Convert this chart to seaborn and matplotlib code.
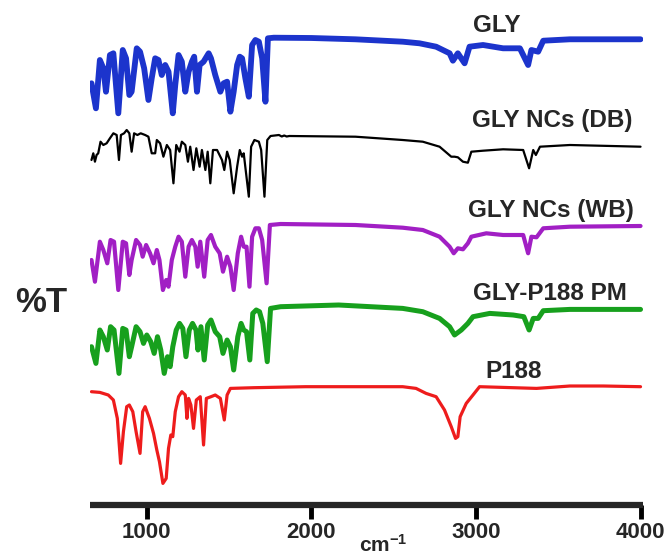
import numpy as np
import pandas as pd
import seaborn as sns
import matplotlib.pyplot as plt

sns.set_theme(style="ticks")
plt.rcParams['font.family'] = ['Liberation Sans', 'DejaVu Sans']
plt.rcParams['mathtext.fontset'] = 'custom'
plt.rcParams['mathtext.rm'] = 'Liberation Sans'
plt.rcParams['mathtext.bf'] = 'Liberation Sans:bold'

# FTIR spectra (wavenumber, %T)
gly_wn = [664, 691, 715, 736, 752, 776, 797, 827, 854, 874, 894, 908, 939, 959, 984, 1010,
          1030, 1051, 1071, 1091, 1112, 1132, 1158, 1173, 1193, 1213, 1234, 1254, 1274, 1288,
          1305, 1321, 1345, 1376, 1390, 1416, 1447, 1467, 1488, 1508, 1528, 1549, 1565, 1579,
          1599, 1620, 1640, 1660, 1681, 1701, 1721, 1736, 1772, 2000, 2268, 2555, 2657, 2758,
          2840, 2860, 2890, 2931, 2961, 3043, 3165, 3267, 3317, 3337, 3378, 3409, 3571, 4000]
gly_t = [54.7, 29.7, 78, 69.7, 46.3, 83, 84.7, 24.7, 88, 79.7, 43, 46.3, 89.7, 86.3, 69.7, 38,
         59.7, 79.7, 78, 63, 73, 66.3, 24.7, 53, 83, 76.3, 46.3, 66.3, 76.3, 81.3,
         46.3, 73, 76.3, 84.7, 79.7, 63, 46.3, 54.7, 56.3, 26.3, 46.3, 73, 81.3, 79.7,
         59.7, 41.3, 93, 98, 96.3, 79.7, 36.3, 99.7, 100.3, 100, 98.7, 96.3, 94.7, 91.3,
         84.7, 77.3, 84.7, 74.7, 91.3, 93, 89.7, 89.7, 73, 88, 86.3, 97.3, 98.7, 98.7]

db_wn = [664, 675, 685, 695, 705, 719, 736, 756, 776, 797, 817, 831, 843, 862, 878, 894, 908,
         923, 943, 963, 990, 1010, 1030, 1051, 1061, 1081, 1101, 1122, 1142, 1162, 1179, 1199,
         1213, 1234, 1250, 1264, 1284, 1301, 1321, 1335, 1356, 1370, 1386, 1402, 1427, 1457,
         1471, 1488, 1504, 1528, 1549, 1565, 1579, 1589, 1620, 1634, 1654, 1681, 1695, 1715,
         1732, 1752, 1803, 1820, 1835, 1850, 1866, 2268, 2555, 2677, 2779, 2850, 2870, 2890,
         2921, 2951, 2972, 3043, 3165, 3287, 3323, 3348, 3364, 3389, 3571, 4000]
db_t = [76, 82.7, 74.3, 81, 82.7, 94.3, 91, 92.7, 97.7, 102.7, 101, 76, 101, 102.7, 106, 102.7, 84.3,
        102.7, 101, 102.7, 101, 99.3, 82.7, 82.7, 96, 92.7, 79.3, 91, 86, 52.7, 91, 84.3,
        94.3, 91, 74.3, 89.3, 66, 87.7, 69.3, 86, 66, 84.3, 52.7, 86, 86, 76,
        66, 84.3, 76, 42.7, 69.3, 86, 79.3, 82.7, 39.3, 89.3, 96, 94.3, 86, 39.3,
        96, 100, 101, 99.5, 100.5, 99.5, 100, 99.3, 96, 94.3, 89.3, 79.3, 79.3, 78.7,
        74.3, 73.3, 84.3, 85.3, 86.7, 86, 67.7, 86, 81, 89.3, 91, 89.3]

wb_wn = [664, 685, 715, 736, 760, 780, 801, 827, 854, 874, 894, 908, 935, 959, 975, 996, 1020,
         1041, 1061, 1077, 1098, 1118, 1132, 1152, 1173, 1193, 1213, 1234, 1254, 1274, 1295,
         1309, 1325, 1349, 1370, 1390, 1416, 1443, 1463, 1488, 1508, 1528, 1553, 1573, 1589,
         1606, 1624, 1640, 1660, 1681, 1701, 1728, 1748, 1813, 2268, 2555, 2677, 2779, 2840,
         2865, 2890, 2921, 2951, 2972, 3063, 3165, 3287, 3317, 3337, 3368, 3409, 3571, 4000]
wb_t = [64, 42.3, 82.3, 74, 60.7, 84, 82.3, 34, 82.3, 80.7, 49, 64, 84, 79, 67.3, 79, 70.7,
        60.7, 74, 64, 34, 44, 37.3, 64, 77.3, 87.3, 82.3, 47.3, 77.3, 84, 77.3,
        57.3, 82.3, 47.3, 84, 89, 77.3, 70.7, 52.3, 67.3, 57.3, 34, 70.7, 87.3, 77.3,
        77.3, 37.3, 87.3, 95.7, 95.7, 84, 40.7, 99, 100, 99, 96.3, 94, 87.3, 77.3,
        70.7, 75.7, 74.7, 80.7, 87.3, 90.7, 89, 89, 70.7, 87.3, 86.7, 95.7, 97.3, 98]

pm_wn = [664, 691, 715, 736, 760, 780, 801, 831, 854, 874, 894, 908, 935, 959, 980, 1000, 1024,
         1045, 1065, 1085, 1106, 1126, 1142, 1158, 1179, 1199, 1219, 1238, 1258, 1278, 1299,
         1311, 1329, 1349, 1370, 1390, 1416, 1443, 1463, 1488, 1508, 1528, 1553, 1573, 1589,
         1606, 1626, 1644, 1665, 1685, 1705, 1732, 1752, 1813, 2166, 2555, 2677, 2779, 2840,
         2870, 2911, 2951, 2982, 3084, 3226, 3291, 3323, 3348, 3378, 3409, 3571, 4000]
pm_t = [60, 43.3, 76.7, 70, 56.7, 80, 76.7, 33.3, 78.3, 76.7, 50, 60, 80, 75, 63.3, 71.7, 65,
        53.3, 70, 56.7, 33.3, 50, 40, 60, 76.7, 83.3, 78.3, 50, 76.7, 83.3, 76.7,
        56.7, 80, 46.7, 81.7, 86.7, 75, 70, 53.3, 66.7, 60, 36.7, 70, 83.3, 76.7,
        75, 46.7, 93.3, 96.7, 95, 83.3, 45, 98.3, 100, 101.7, 98.3, 95, 88.3, 80,
        71.7, 76.7, 83.3, 90, 93.3, 91.7, 90, 76.7, 88.3, 88.3, 96, 97.3, 97.3]

p188_wn = [664, 715, 766, 797, 821, 841, 858, 878, 894, 915, 935, 959, 975, 990, 1016, 1041,
           1061, 1077, 1098, 1118, 1132, 1146, 1158, 1173, 1193, 1213, 1234, 1244, 1254, 1268,
           1284, 1301, 1325, 1345, 1362, 1390, 1416, 1447, 1471, 1488, 1508, 1650, 1965, 2555,
           2636, 2697, 2758, 2809, 2850, 2876, 2890, 2904, 2941, 2982, 3022, 3165, 3368, 3571,
           3774, 4000]
p188_t = [96, 95.3, 92.7, 87.7, 69.3, 24.3, 56, 81, 82.7, 76, 56, 34.3, 76, 81, 69.3, 54.3,
          37.7, 26, 4.3, 9.3, 39.3, 52.7, 51, 76, 91, 96, 92.7, 69.3, 89.3, 82.7,
          59.3, 87.7, 91, 42.7, 89.3, 91, 92.7, 89.3, 67.7, 92.7, 99.3, 100, 101, 101,
          99.3, 94.3, 91, 77.7, 61, 49.3, 51, 71, 84.3, 92.7, 101, 100.3, 99.3, 101.7,
          101.7, 101]

names = ["GLY", "GLY NCs (DB)", "GLY NCs (WB)", "GLY-P188 PM", "P188"]
spectra = [(gly_wn, gly_t), (db_wn, db_t), (wb_wn, wb_t), (pm_wn, pm_t), (p188_wn, p188_t)]

# stacking offsets and styles
offsets = [-138, -236, -324, -406.7, -487.7]
colors = ["#1c34cc", "#000000", "#a11fc4", "#17a01d", "#ee1c1c"]
widths = [4.2, 1.6, 3.0, 3.6, 2.3]
label_pos = [(2982, -26), (2976, -120), (2952, -210), (2982, -293), (3055, -371)]

W, H = 667, 555
fig = plt.figure(figsize=(W / 100, H / 100), dpi=100)
ax = fig.add_axes([90 / W, 50 / H, 553 / W, 505 / H])

for (wn, t), off, c, lw, name, (lx, ly) in zip(spectra, offsets, colors, widths, names, label_pos):
    df = pd.DataFrame({"wn": wn, "y": np.array(t) + off})
    sns.lineplot(data=df, x="wn", y="y", ax=ax, color=c, lw=lw, estimator=None, sort=False,
                 solid_joinstyle="round", solid_capstyle="round")
    ax.text(lx, ly, name, fontsize=17.5, fontweight="bold", ha="left", va="center")

ax.set_xlim(655, 4015)
ax.set_ylim(-505, 0)
ax.set_xticks([1000, 2000, 3000, 4000])
ax.set_xticklabels(["1000", "2000", "3000", "4000"], fontsize=16, fontweight="bold")
ax.set_yticks([])
ax.set_xlabel("")
ax.set_ylabel("")
sns.despine(ax=ax, left=True)
ax.spines["bottom"].set_linewidth(4.5)
ax.spines["bottom"].set_capstyle("butt")
ax.tick_params(axis="x", length=10, width=3.5, pad=2, color="black")

fig.text(359 / W, 3 / H, r"$\mathbf{cm^{-1}}$", fontsize=15, ha="left", va="baseline")
fig.text(15 / W, 1 - 302 / H, "%T", fontsize=25, fontweight="bold", ha="left", va="center")

fig.savefig("out.png", dpi=100)
